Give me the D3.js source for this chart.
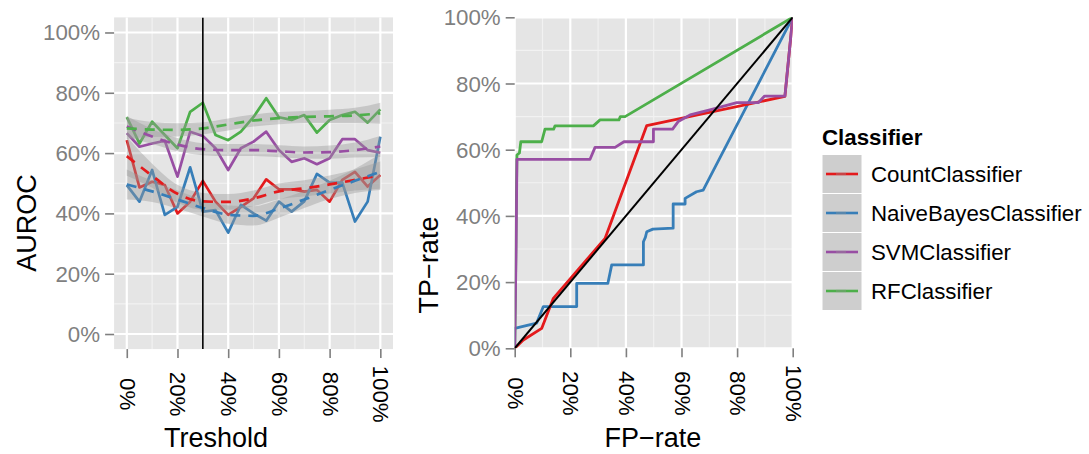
<!DOCTYPE html>
<html>
<head>
<meta charset="utf-8">
<script src="https://cdn.jsdelivr.net/npm/d3@7"></script>
<style>
  html, body { margin: 0; padding: 0; background: #ffffff; }
  svg { display: block; font-family: "Liberation Sans", Arial, Helvetica, sans-serif; }
</style>
</head>
<body>
<svg id="chart" width="1089" height="454"></svg>
<script>
// ---- data -------------------------------------------------------------
const classifiers = ["CountClassifier", "NaiveBayesClassifier", "SVMClassifier", "RFClassifier"];
const colors = ["#E41A1C", "#377EB8", "#984EA3", "#4DAF4A"];

// threshold sweep (fraction) and AUROC per threshold (percent)
const threshold = [0, 0.05, 0.10, 0.15, 0.20, 0.25, 0.30, 0.35, 0.40, 0.45, 0.50,
                   0.55, 0.60, 0.65, 0.70, 0.75, 0.80, 0.85, 0.90, 0.95, 1.00];
const countAuroc = [64.3, 48.6, 50.5, 49.4, 40.0, 43.9, 50.8, 43.9, 39.5, 42.2, 45.0,
                    51.3, 48.0, 48.0, 47.2, 47.8, 43.9, 51.1, 53.8, 48.9, 52.7];
const naiveBayesAuroc = [49.4, 43.9, 54.4, 39.5, 42.2, 55.3, 40.6, 41.1, 33.6, 42.8, 40.0,
                         37.6, 43.9, 40.6, 44.0, 53.1, 50.2, 50.2, 37.3, 43.9, 65.4];
const svmAuroc = [66.6, 62.1, 63.2, 64.1, 52.2, 67.1, 65.7, 61.6, 54.4, 61.6, 63.8,
                  67.1, 61.0, 57.1, 58.3, 56.3, 58.3, 64.6, 64.6, 61.0, 60.1];
const rfAuroc = [71.9, 63.2, 70.4, 66.0, 61.6, 73.7, 76.7, 66.0, 64.3, 67.1, 72.0,
                 78.2, 71.9, 71.0, 72.6, 66.8, 71.0, 72.6, 73.7, 70.1, 74.5];

// smoothed trend (percent) with its confidence half-width
const smoothT = [0, 0.1, 0.2, 0.3, 0.4, 0.5, 0.6, 0.7, 0.8, 0.9, 1.0];
const countFit = [59.0, 52.5, 46.5, 44.0, 43.8, 45.0, 47.3, 48.3, 49.6, 51.1, 52.7];
const countSe  = [6.5, 4.0, 3.0, 2.8, 2.6, 2.6, 2.6, 2.7, 3.0, 3.5, 4.5];
const naiveBayesFit = [49.6, 47.3, 44.6, 41.8, 39.6, 39.2, 41.6, 44.6, 47.8, 50.8, 53.8];
const naiveBayesSe  = [5.0, 3.5, 3.0, 2.8, 3.0, 3.2, 3.0, 2.8, 3.0, 4.0, 6.0];
const svmFit = [68.8, 65.5, 62.8, 61.3, 61.0, 61.0, 60.6, 60.2, 60.3, 61.0, 62.2];
const svmSe  = [3.5, 2.5, 2.2, 2.0, 2.0, 2.0, 2.0, 2.0, 2.2, 2.5, 3.5];
const rfFit = [68.2, 67.8, 67.7, 68.2, 69.5, 70.8, 71.6, 72.0, 72.2, 72.5, 73.2];
const rfSe  = [3.5, 2.5, 2.2, 2.0, 2.0, 2.0, 2.0, 2.0, 2.2, 2.5, 3.5];

const chosenThreshold = 0.30;

// ROC curves: [FP-rate, TP-rate]
const countRoc = [[0, 0], [0.031, 0.025], [0.097, 0.060], [0.139, 0.151], [0.325, 0.332],
                  [0.475, 0.673], [0.972, 0.761], [1, 1]];
const naiveBayesRoc = [[0, 0], [0, 0.06], [0.079, 0.076], [0.103, 0.126], [0.223, 0.126],
                       [0.223, 0.196], [0.335, 0.196], [0.349, 0.252], [0.463, 0.252],
                       [0.463, 0.322], [0.470, 0.335], [0.475, 0.352], [0.497, 0.360],
                       [0.570, 0.363], [0.570, 0.436], [0.613, 0.436], [0.613, 0.453],
                       [0.654, 0.473], [0.678, 0.478], [1, 1]];
const svmRoc = [[0, 0], [0.005, 0.30], [0.008, 0.571], [0.271, 0.571], [0.289, 0.607],
                [0.361, 0.607], [0.393, 0.624], [0.499, 0.624], [0.499, 0.662],
                [0.568, 0.662], [0.588, 0.685], [0.631, 0.705], [0.709, 0.722],
                [0.799, 0.742], [0.876, 0.742], [0.899, 0.762], [0.972, 0.762], [1, 1]];
const rfRoc = [[0, 0], [0.003, 0.20], [0.006, 0.45], [0.008, 0.584], [0.017, 0.590],
               [0.022, 0.624], [0.097, 0.624], [0.109, 0.662], [0.140, 0.662],
               [0.145, 0.672], [0.283, 0.672], [0.307, 0.690], [0.375, 0.690],
               [0.380, 0.700], [0.397, 0.700], [1, 1]];
const chanceLine = [[0, 0], [1, 1]];

const percentTicks = [0, 0.2, 0.4, 0.6, 0.8, 1.0];
const percentLabels = ["0%", "20%", "40%", "60%", "80%", "100%"];
const minorTicks = [0.1, 0.3, 0.5, 0.7, 0.9];

const aurocSeries = [countAuroc, naiveBayesAuroc, svmAuroc, rfAuroc];
const smoothSeries = [
  {fit: countFit, se: countSe}, {fit: naiveBayesFit, se: naiveBayesSe},
  {fit: svmFit, se: svmSe}, {fit: rfFit, se: rfSe}
];
const rocSeries = [countRoc, naiveBayesRoc, svmRoc, rfRoc];

// ---- layout ------------------------------------------------------------
const svg = d3.select("#chart");
const fmt = d => percentLabels[percentTicks.indexOf(d)];
const labelSize = "22.3px";
const titleSize = "27px";

const xL = d3.scaleLinear().domain([-0.05, 1.05]).range([114.1, 393]);
const yL = d3.scaleLinear().domain([-0.05, 1.05]).range([349.1, 17.4]);
const xR = d3.scaleLinear().domain([0, 1]).range([514.7, 792.7]);
const yR = d3.scaleLinear().domain([0, 1]).range([348.3, 17.3]);

function panel(id, xs, ys) {
  const [x0, x1] = xs.range(), [y0, y1] = ys.range();
  const g = svg.append("g");
  g.append("rect").attr("x", x0).attr("y", y1).attr("width", x1 - x0).attr("height", y0 - y1)
    .attr("fill", "#E5E5E5");
  svg.append("clipPath").attr("id", id).append("rect")
    .attr("x", x0).attr("y", y1).attr("width", x1 - x0).attr("height", y0 - y1);
  // minor grid
  g.selectAll(".mx").data(minorTicks).join("line")
    .attr("x1", d => xs(d)).attr("x2", d => xs(d)).attr("y1", y0).attr("y2", y1)
    .attr("stroke", "#F2F2F2").attr("stroke-width", 1.1);
  g.selectAll(".my").data(minorTicks).join("line")
    .attr("y1", d => ys(d)).attr("y2", d => ys(d)).attr("x1", x0).attr("x2", x1)
    .attr("stroke", "#F2F2F2").attr("stroke-width", 1.1);
  // major grid
  g.selectAll(".Mx").data(percentTicks).join("line")
    .attr("x1", d => xs(d)).attr("x2", d => xs(d)).attr("y1", y0).attr("y2", y1)
    .attr("stroke", "#FFFFFF").attr("stroke-width", 2.2);
  g.selectAll(".My").data(percentTicks).join("line")
    .attr("y1", d => ys(d)).attr("y2", d => ys(d)).attr("x1", x0).attr("x2", x1)
    .attr("stroke", "#FFFFFF").attr("stroke-width", 2.2);

  // axes
  const ax = svg.append("g").attr("transform", `translate(0,${y0})`)
    .call(d3.axisBottom(xs).tickValues(percentTicks).tickFormat(fmt).tickSize(9).tickPadding(4));
  ax.select(".domain").remove();
  ax.selectAll(".tick line").attr("stroke", "#7F7F7F").attr("stroke-width", 1.6);
  ax.selectAll(".tick text")
    .attr("y", 0).attr("dy", null)
    .attr("transform", "translate(0,45) rotate(90)")
    .attr("text-anchor", "middle").attr("dominant-baseline", "central")
    .attr("fill", "#000").style("font-size", labelSize);

  const ay = svg.append("g").attr("transform", `translate(${x0},0)`)
    .call(d3.axisLeft(ys).tickValues(percentTicks).tickFormat(fmt).tickSize(9).tickPadding(5));
  ay.select(".domain").remove();
  ay.selectAll(".tick line").attr("stroke", "#7F7F7F").attr("stroke-width", 1.6);
  ay.selectAll(".tick text").attr("dy", null).attr("dominant-baseline", "central")
    .attr("fill", "#7F7F7F").style("font-size", labelSize);
  return svg.append("g").attr("clip-path", `url(#${id})`);
}

// ---- left panel: AUROC vs threshold -------------------------------------
const gL = panel("clipL", xL, yL);
const lineL = d3.line().x((d, i) => xL(threshold[i])).y(d => yL(d / 100));

aurocSeries.forEach((vals, c) => {
  gL.append("path").datum(vals).attr("d", lineL)
    .attr("fill", "none").attr("stroke", colors[c]).attr("stroke-width", 2.7)
    .attr("stroke-linejoin", "round");
});

const ribbon = d3.area().curve(d3.curveMonotoneX)
  .x((d, i) => xL(smoothT[i]))
  .y0(d => yL((d.f - d.s) / 100)).y1(d => yL((d.f + d.s) / 100));
const smoothLine = d3.line().curve(d3.curveMonotoneX)
  .x((d, i) => xL(smoothT[i])).y(d => yL(d / 100));

smoothSeries.forEach(s => {
  gL.append("path").datum(s.fit.map((f, i) => ({f, s: s.se[i]}))).attr("d", ribbon)
    .attr("fill", "#999999").attr("fill-opacity", 0.4);
});
smoothSeries.forEach((s, c) => {
  gL.append("path").datum(s.fit).attr("d", smoothLine)
    .attr("fill", "none").attr("stroke", colors[c]).attr("stroke-width", 2.7)
    .attr("stroke-dasharray", "10,8");
});

gL.append("line")
  .attr("x1", xL(chosenThreshold)).attr("x2", xL(chosenThreshold))
  .attr("y1", yL.range()[0]).attr("y2", yL.range()[1])
  .attr("stroke", "#000").attr("stroke-width", 1.6);

// ---- right panel: ROC curves ----------------------------------------------
const gR = panel("clipR", xR, yR);
const lineR = d3.line().x(d => xR(d[0])).y(d => yR(d[1]));
[1, 0, 3, 2].forEach(c => {
  gR.append("path").datum(rocSeries[c]).attr("d", lineR)
    .attr("fill", "none").attr("stroke", colors[c]).attr("stroke-width", 2.8)
    .attr("stroke-linejoin", "round");
});
gR.append("path").datum(chanceLine).attr("d", lineR)
  .attr("fill", "none").attr("stroke", "#000").attr("stroke-width", 2);

// ---- axis titles ----------------------------------------------------------
svg.append("text").attr("x", 216).attr("y", 447).attr("text-anchor", "middle")
  .style("font-size", titleSize).text("Treshold");
svg.append("text").attr("x", 653).attr("y", 447).attr("text-anchor", "middle")
  .style("font-size", titleSize).text("FP\u2212rate");
svg.append("text").attr("transform", "translate(36,223) rotate(-90)").attr("text-anchor", "middle")
  .style("font-size", titleSize).text("AUROC");
svg.append("text").attr("transform", "translate(438,265) rotate(-90)").attr("text-anchor", "middle")
  .style("font-size", titleSize).text("TP\u2212rate");

// ---- legend ---------------------------------------------------------------
const legend = svg.append("g");
legend.append("text").attr("x", 822).attr("y", 145)
  .style("font-size", labelSize).style("font-weight", "bold").text("Classifier");
classifiers.forEach((name, i) => {
  const cy = 174 + i * 39;
  legend.append("rect").attr("x", 822).attr("y", cy - 19.5).attr("width", 40).attr("height", 39)
    .attr("fill", "#CECECE").attr("stroke", "#FFFFFF").attr("stroke-width", 1);
  legend.append("line").attr("x1", 826).attr("x2", 858).attr("y1", cy).attr("y2", cy)
    .attr("stroke", colors[i]).attr("stroke-width", 2.6);
  legend.append("line").attr("x1", 836).attr("x2", 846).attr("y1", cy).attr("y2", cy)
    .attr("stroke", "#999999").attr("stroke-opacity", 0.35).attr("stroke-width", 2.6);
  legend.append("text").attr("x", 871).attr("y", cy).attr("dominant-baseline", "central")
    .style("font-size", labelSize).text(name);
});
</script>
</body>
</html>
